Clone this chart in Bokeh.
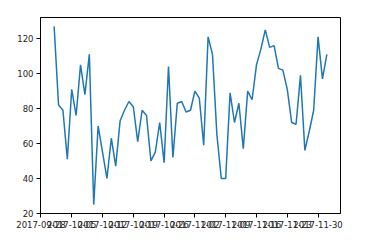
import datetime as dt
from bokeh.plotting import figure
from bokeh.models import Range1d, FixedTicker, DatetimeTickFormatter, ColumnDataSource
from bokeh.embed import file_html
from bokeh.resources import INLINE

start_date = "2017-10-01"
values = [127, 82, 79, 51, 91, 76, 105, 88, 111, 25,
          70, 55, 40, 63, 47, 73, 79, 84, 81, 61,
          79, 76, 50, 55, 72, 49, 104, 52, 83, 84,
          78, 79, 90, 86, 59, 121, 111, 65, 40, 40,
          89, 72, 83, 57, 90, 85, 105, 114, 125, 115,
          116, 103, 102, 91, 72, 71, 99, 56, 67, 79,
          121, 97, 111]
tick_labels = ["2017-09-28", "2017-10-05", "2017-10-12", "2017-10-19", "2017-10-26",
               "2017-11-02", "2017-11-09", "2017-11-16", "2017-11-23", "2017-11-30"]
y_ticks = [20, 40, 60, 80, 100, 120]

d0 = dt.datetime.strptime(start_date, "%Y-%m-%d")
dates = [d0 + dt.timedelta(days=i) for i in range(len(values))]
src = ColumnDataSource(dict(x=dates, y=values))

def ms(d):
    return (d - dt.datetime(1970, 1, 1)).total_seconds() * 1000.0

span = ms(dates[-1]) - ms(dates[0])
vmin, vmax = min(values), max(values)
vspan = vmax - vmin

p = figure(width=371, height=240, x_axis_type="datetime",
           output_backend="svg", toolbar_location=None,
           min_border_left=40, min_border_right=31,
           min_border_top=17, min_border_bottom=27,
           x_range=Range1d(ms(dates[0]) - 0.05 * span, ms(dates[-1]) + 0.05 * span),
           y_range=Range1d(vmin - 0.05 * vspan, vmax + 0.05 * vspan))
p.line("x", "y", source=src, line_color="#1f77b4", line_width=1.5)

p.xgrid.visible = False
p.ygrid.visible = False
p.outline_line_color = "black"
p.outline_line_width = 1
p.background_fill_color = "white"
p.border_fill_color = "white"

tick_ms = [ms(dt.datetime.strptime(t, "%Y-%m-%d")) for t in tick_labels]
p.xaxis.ticker = FixedTicker(ticks=tick_ms)
fmt = "%Y-%m-%d"
p.xaxis.formatter = DatetimeTickFormatter(
    milliseconds=fmt, seconds=fmt, minsec=fmt, minutes=fmt, hourmin=fmt,
    hours=fmt, days=fmt, months=fmt, years=fmt)
p.yaxis.ticker = FixedTicker(ticks=y_ticks)

for ax in (p.xaxis, p.yaxis):
    ax.axis_line_color = "black"
    ax.major_tick_line_color = "black"
    ax.major_tick_out = 4
    ax.major_tick_in = 0
    ax.minor_tick_line_color = None
    ax.major_label_text_font = "DejaVu Sans"
    ax.major_label_text_font_size = "8.5px"
    ax.major_label_text_color = "#222222"
p.yaxis.major_label_standoff = 3
p.xaxis.major_label_standoff = 3

open("out.html", "w").write(file_html(p, INLINE))
